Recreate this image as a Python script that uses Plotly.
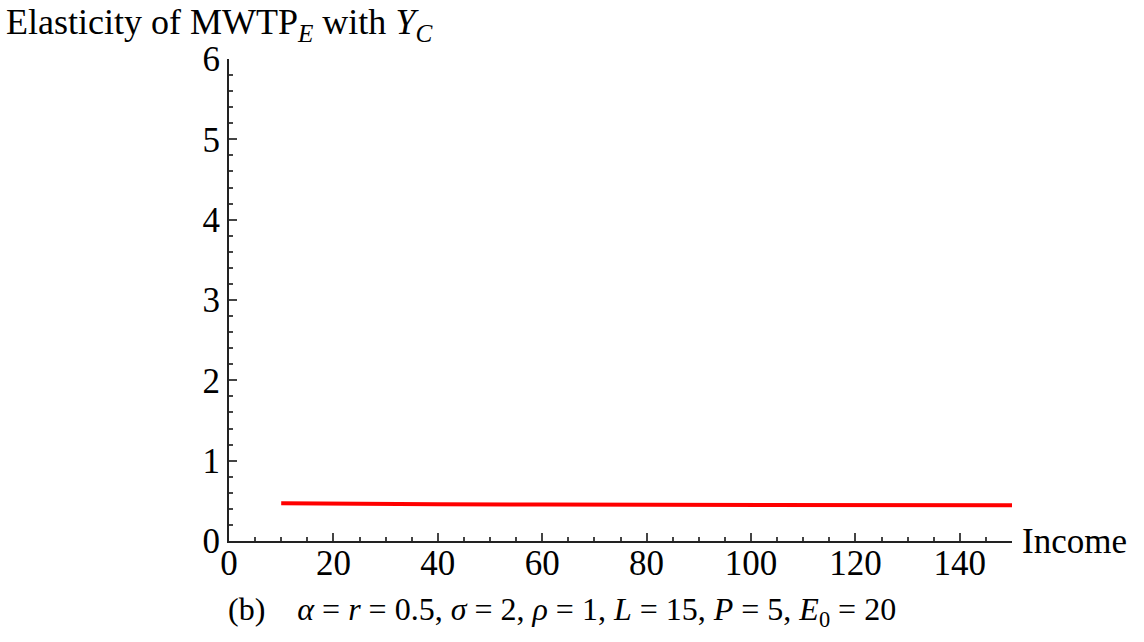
import plotly.graph_objects as go

income = [10, 20, 40, 60, 80, 100, 120, 150]
elasticity = [0.470, 0.464, 0.458, 0.453, 0.450, 0.448, 0.446, 0.444]
x_ticks = [0, 20, 40, 60, 80, 100, 120, 140]
y_ticks = [0, 1, 2, 3, 4, 5, 6]

FONT = "Liberation Serif"
FS = 35

fig = go.Figure()
fig.add_trace(go.Scatter(x=income, y=elasticity, mode="lines",
                         line=dict(color="#ff0000", width=4), showlegend=False))

fig.update_layout(
    width=1144, height=642,
    margin=dict(l=229, r=132, t=59, b=101),
    paper_bgcolor="white", plot_bgcolor="white",
    font=dict(family=FONT, size=FS, color="black"),
    xaxis=dict(range=[0, 150], tickvals=x_ticks, showgrid=False, zeroline=False,
               showline=True, linecolor="#222", linewidth=2,
               ticks="inside", ticklen=8, tickwidth=1.5, tickcolor="#444",
               minor=dict(dtick=5, ticks="inside", ticklen=4, tickwidth=1.5, tickcolor="#444"),
               tickfont=dict(family=FONT, size=FS), ticklabelstandoff=-10),
    yaxis=dict(range=[0, 6], tickvals=y_ticks, showgrid=False, zeroline=False,
               showline=True, linecolor="#222", linewidth=2,
               ticks="inside", ticklen=8, tickwidth=1.5, tickcolor="#444",
               minor=dict(dtick=0.2, ticks="inside", ticklen=4, tickwidth=1.5, tickcolor="#444"),
               tickfont=dict(family=FONT, size=FS)),
)

fig.add_annotation(xref="paper", yref="paper", x=(4 - 229) / 783, y=1 + 59/482, xanchor="left", yanchor="top",
                   text="Elasticity of MWTP<sub><i>E</i></sub> with <i>Y</i><sub><i>C</i></sub>",
                   showarrow=False, font=dict(family=FONT, size=36))
fig.add_annotation(xref="paper", yref="paper", x=1.01, y=0, xanchor="left", yanchor="middle",
                   text="Income", showarrow=False, font=dict(family=FONT, size=FS))
fig.add_annotation(xref="paper", yref="paper", x=(562 - 229) / 783, y=-(611 - 541) / 482,
                   xanchor="center", yanchor="middle",
                   text="(b)    <i>α</i> = <i>r</i> = 0.5, <i>σ</i> = 2, <i>ρ</i> = 1, <i>L</i> = 15, <i>P</i> = 5, <i>E</i><sub>0</sub> = 20",
                   showarrow=False, font=dict(family=FONT, size=32))

fig.write_html("out.html")
